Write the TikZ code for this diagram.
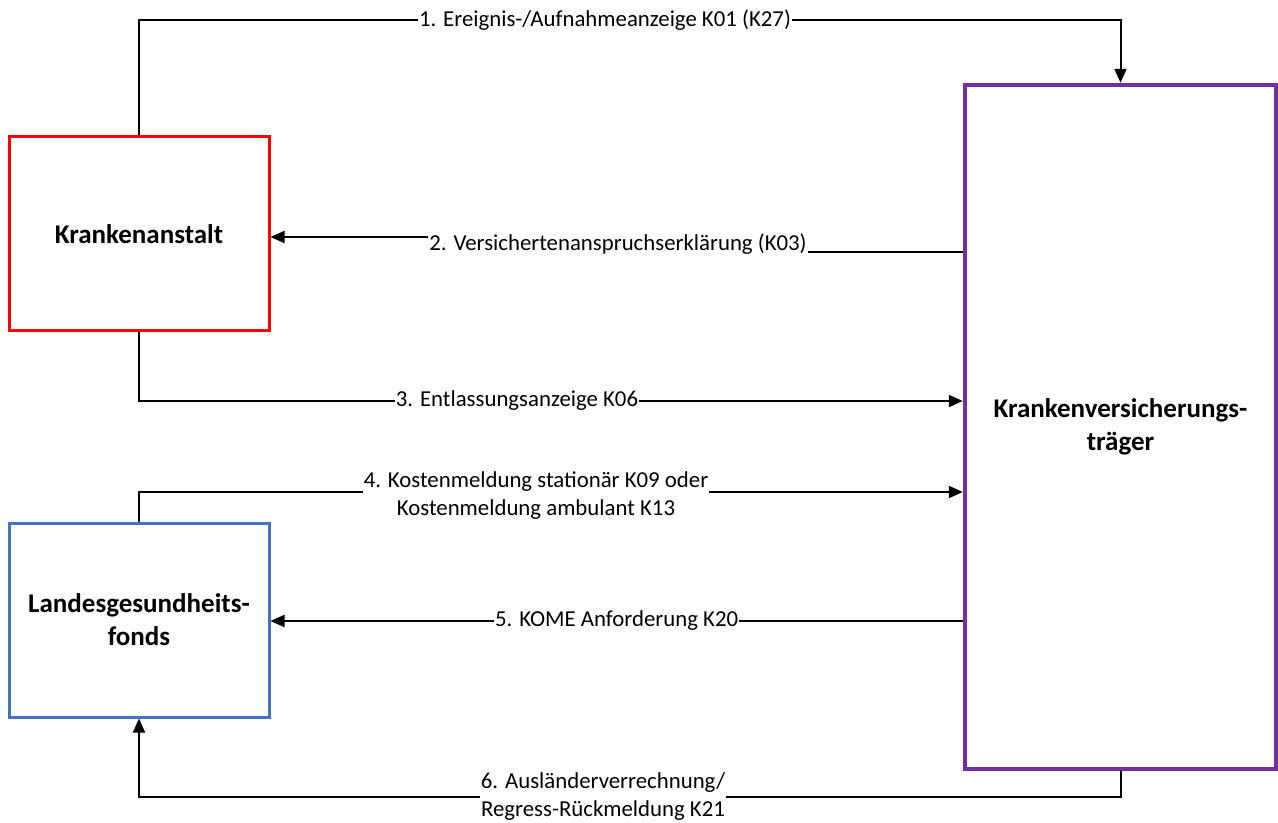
\documentclass[tikz,border=0pt]{standalone}
\usepackage{fontspec}
\setmainfont{Carlito}
\usetikzlibrary{arrows.meta}
\definecolor{kaRed}{HTML}{FF0000}
\definecolor{lgfBlue}{HTML}{4472C4}
\definecolor{kvPurple}{HTML}{7030A0}

\begin{document}
\begin{tikzpicture}[x=0.5pt,y=-0.5pt,
    box/.style={draw,fill=white,inner sep=0pt,align=center,font=\fontsize{13.5}{16.5}\selectfont\bfseries},
    conn/.style={line width=1pt,-{Triangle[length=7pt,width=6pt]}},
    lbl/.style={fill=white,inner sep=0.5pt,align=center,font=\fontsize{11.4}{14}\selectfont}]
    \useasboundingbox (0,0) rectangle (1278,823);
    % boxes
    \node[box,draw=kaRed,line width=1.5pt,minimum width=130pt,minimum height=97pt] (ka) at (139,234) {Krankenanstalt};
    \node[box,draw=lgfBlue,line width=1.5pt,minimum width=130pt,minimum height=97pt] (lgf) at (139,620) {Landesgesundheits-\\fonds};
    \node[box,draw=kvPurple,line width=2.2pt,minimum width=155.5pt,minimum height=342pt] (kv) at (1120.5,427) {Krankenversicherungs-\\träger};
    % messages
    \draw[conn] (ka.north) |- (605,20) node[lbl] {1. Ereignis-/Aufnahmeanzeige K01 (K27)} -| (kv.north);
    \draw[conn] (kv.west |- 0,252) -- (618,252) -- node[lbl] {2. Versichertenanspruchserklärung (K03)} (618,237) -- (ka.east |- 0,237);
    \draw[conn] (ka.south) |- (517,401) node[lbl] {3. Entlassungsanzeige K06} -- (kv.west |- 0,401);
    \draw[conn] (lgf.north) |- (536,492) node[lbl,yshift=-2pt] {4. Kostenmeldung stationär K09 oder\\Kostenmeldung ambulant K13} -- (kv.west |- 0,492);
    \draw[conn] (kv.west |- 0,621) -- node[lbl] {5. KOME Anforderung K20} (lgf.east |- 0,621);
    \draw[conn] (kv.south) |- (603,797) node[lbl] {6. Ausländerverrechnung/\\Regress-Rückmeldung K21} -| (lgf.south);
\end{tikzpicture}
\end{document}
